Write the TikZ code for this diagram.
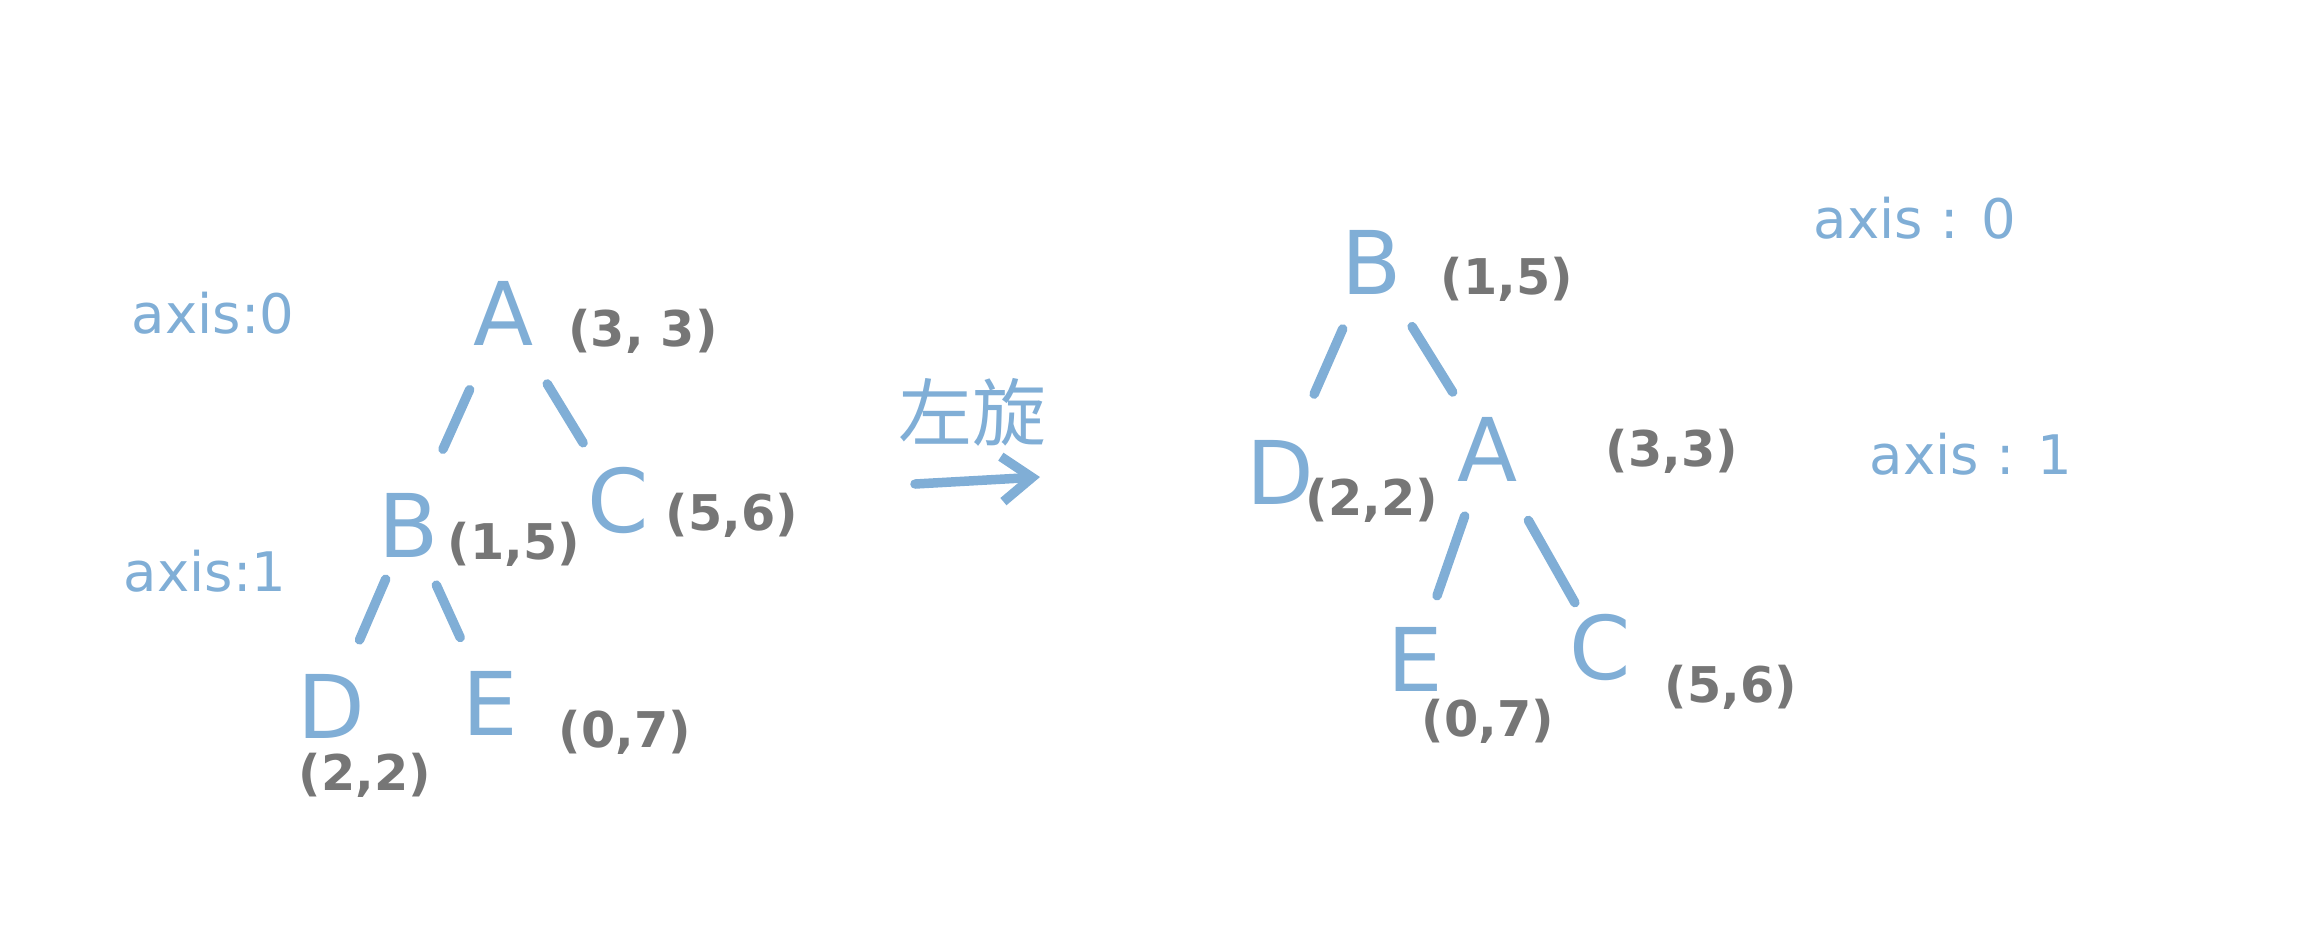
\documentclass[tikz,border=0pt]{standalone}
\usepackage{fontspec}
\setmainfont{DejaVu Sans}
\newfontfamily\cjk{Noto Sans CJK SC}
\usetikzlibrary{arrows.meta}
\definecolor{hblue}{HTML}{80AED6}
\definecolor{hgray}{HTML}{767676}
\tikzset{
  big/.style={text=hblue, font=\fontsize{25}{30}\selectfont, inner sep=0pt},
  crd/.style={text=hgray, font=\fontsize{14}{17}\selectfont\bfseries, inner sep=0pt},
  ax/.style={text=hblue, font=\fontsize{15.5}{18}\selectfont, inner sep=0pt},
  edge/.style={draw=hblue, line width=2.7pt, line cap=round},
}
\begin{document}
\begin{tikzpicture}[x=0.01cm, y=-0.01cm]
\useasboundingbox (0,0) rectangle (2306,938);
% left tree
\node[ax] (ax0l) at (213,313) {axis:0};
\node[ax] (ax1l) at (205,571) {axis:1};
\node[big] (lA) at (504,313) {A};
\node[crd] (lAc) at (643,331) {(3, 3)};
\node[big] (lB) at (409,525) {B};
\node[crd] (lBc) at (514,544) {(1,5)};
\node[big] (lC) at (618,500) {C};
\node[crd] (lCc) at (732,515) {(5,6)};
\node[big] (lD) at (331,706) {D};
\node[crd] (lDc) at (365,775) {(2,2)};
\node[big] (lE) at (490,703) {E};
\node[crd] (lEc) at (625,732) {(0,7)};
\draw[edge, shorten <=0.84cm, shorten >=0.83cm] (lA.center) -- (lB.center);
\draw[edge, shorten <=0.83cm, shorten >=0.67cm] (lA.center) -- (lC.center);
\draw[edge, shorten <=0.59cm, shorten >=0.72cm] (lB.center) -- (lD.center);
\draw[edge, shorten <=0.66cm, shorten >=0.72cm] (lB.center) -- (lE.center);
% rotation label and arrow
\node[text=hblue, font=\cjk\fontsize{21}{25}\selectfont, inner sep=0pt] (rot) at (972,412) {左旋};
\coordinate (arS) at (915,484);
\coordinate (arE) at (1040,477);
\draw[edge, -{Straight Barb[length=0.3cm, width=0.45cm]}] (arS) -- (arE);
% right tree
\node[ax] (ax0r) at (1915,218) {axis : 0};
\node[ax] (ax1r) at (1971,454) {axis : 1};
\node[big] (rB) at (1372,262) {B};
\node[crd] (rBc) at (1507,279) {(1,5)};
\node[big] (rD) at (1280,472) {D};
\node[crd] (rDc) at (1372,500) {(2,2)};
\node[big] (rA) at (1488,449) {A};
\node[crd] (rAc) at (1672,451) {(3,3)};
\node[big] (rE) at (1415,659) {E};
\node[crd] (rEc) at (1488,721) {(0,7)};
\node[big] (rC) at (1600,647) {C};
\node[crd] (rCc) at (1731,687) {(5,6)};
\draw[edge, shorten <=0.73cm, shorten >=0.85cm] (rB.center) -- (rD.center);
\draw[edge, shorten <=0.76cm, shorten >=0.67cm] (rB.center) -- (rA.center);
\draw[edge, shorten <=0.71cm, shorten >=0.67cm] (rA.center) -- (rE.center);
\draw[edge, shorten <=0.82cm, shorten >=0.51cm] (rA.center) -- (rC.center);
\end{tikzpicture}
\end{document}
